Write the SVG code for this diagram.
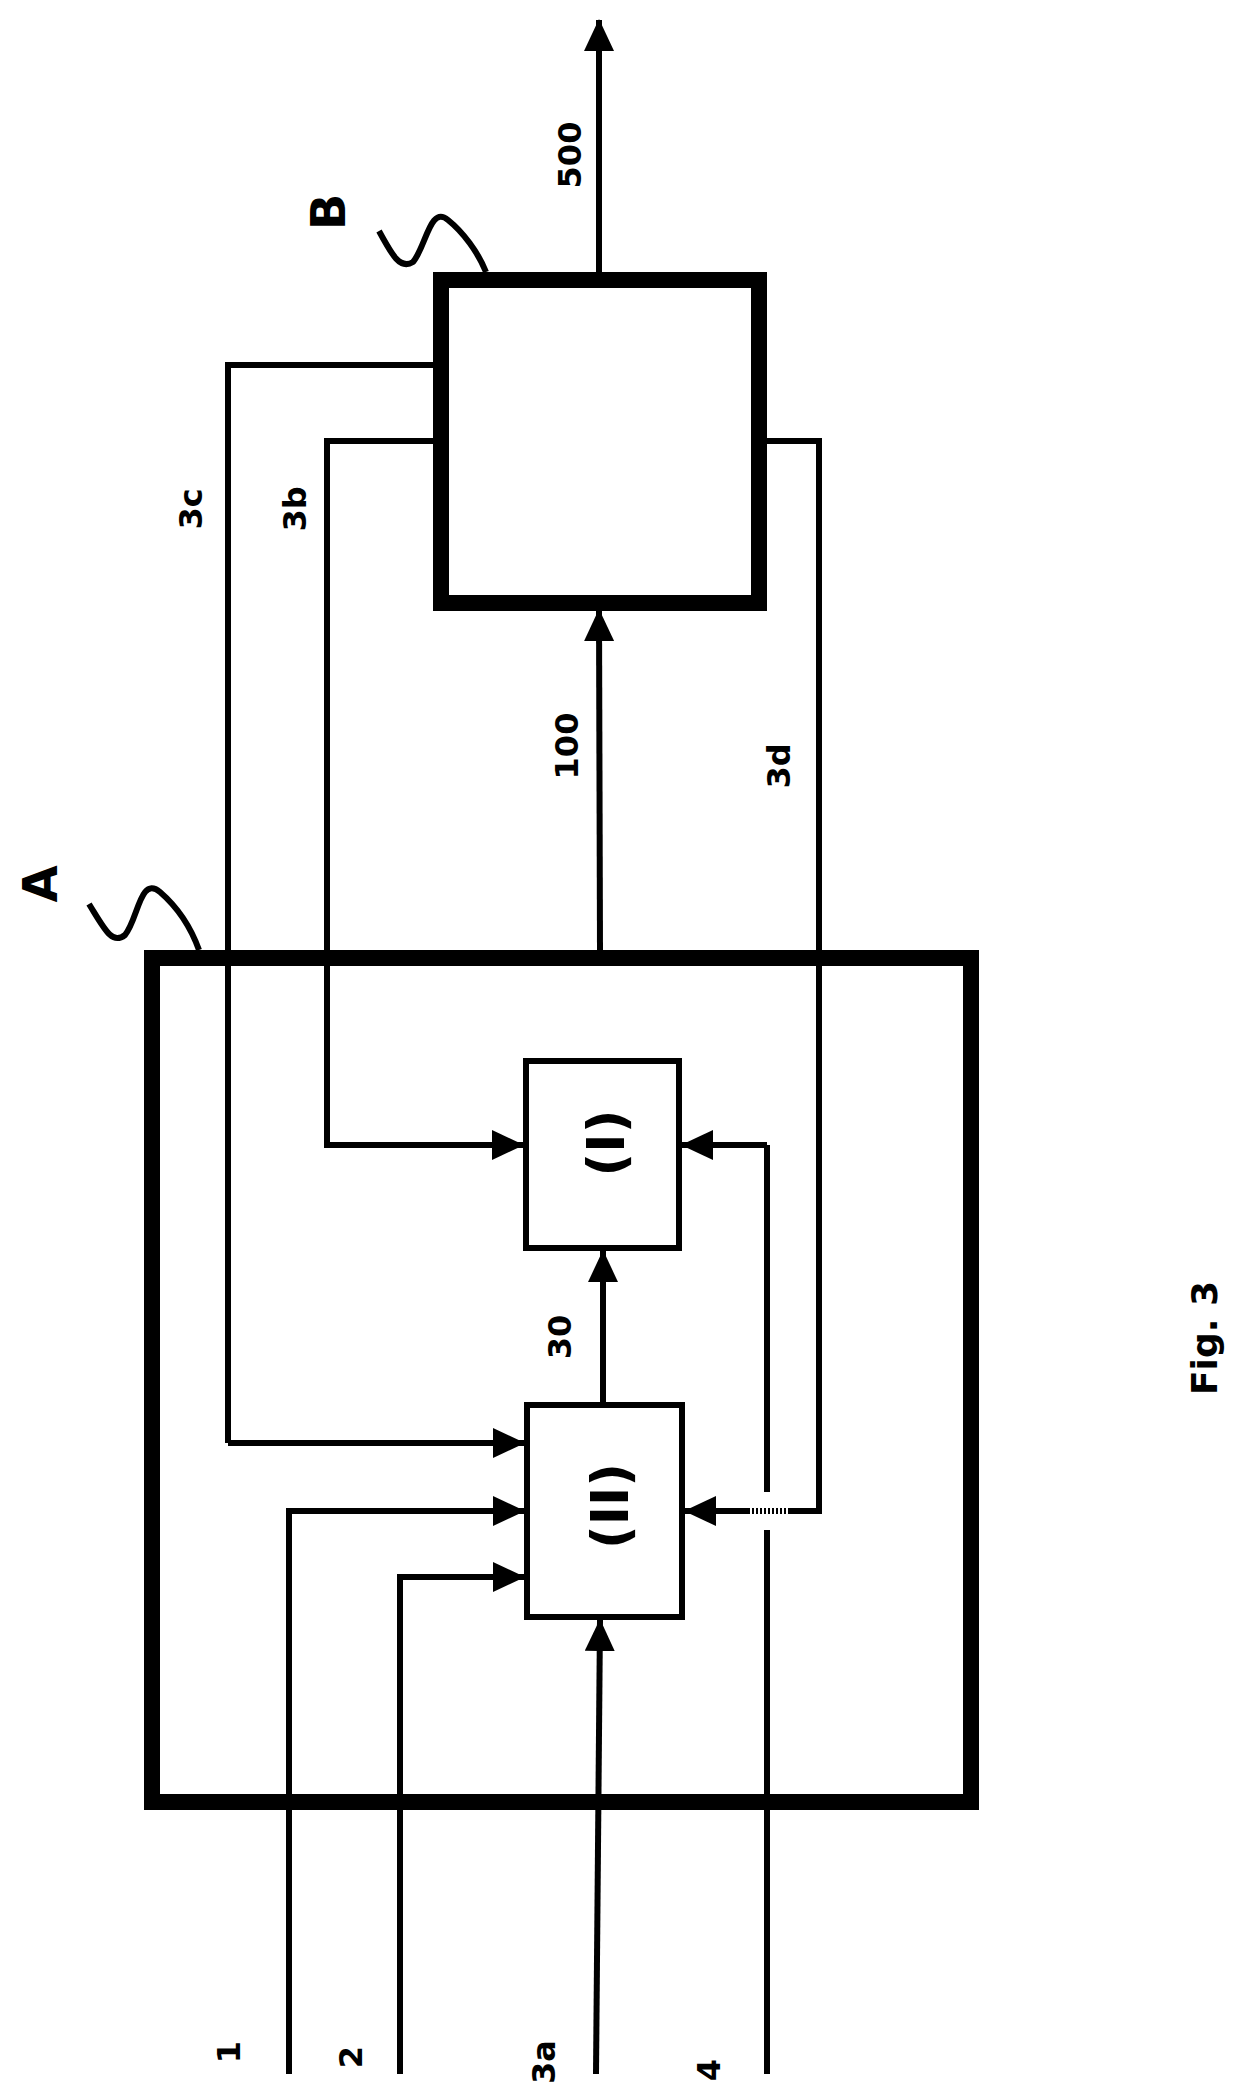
<svg xmlns="http://www.w3.org/2000/svg" width="1243" height="2098" viewBox="0 0 1243 2098">
<style>
.ln{fill:none;stroke:#000;stroke-width:6}
.ar{marker-end:url(#ah)}
.box{fill:none;stroke:#000}
.t{font-family:"DejaVu Sans",sans-serif;font-weight:bold;fill:#000}
</style>
<defs>
<marker id="ah" markerUnits="userSpaceOnUse" markerWidth="32" markerHeight="30" refX="31" refY="15" orient="auto" viewBox="0 0 32 30">
<path d="M0,0 L32,15 L0,30 z" fill="#000"/>
</marker>
</defs>
<rect width="1243" height="2098" fill="#fff"/>
<g id="connectors">
<path class="ln ar" d="M599,272 L599,20"/>
<path class="ln ar" d="M600,950 L599,610"/>
<path class="ln ar" d="M603,1402 L603,1251"/>
<path class="ln ar" d="M596,2074 L600,1620"/>
<path class="ln" d="M433,365 L228,365 L228,1443"/>
<path class="ln ar" d="M228,1443 L524,1443"/>
<path class="ln ar" d="M433,441 L327,441 L327,1145 L523,1145"/>
<path class="ln" d="M767,441 L819,441 L819,1511 L788,1511"/>
<path class="ln ar" d="M748,1511 L685,1511"/>
<path d="M748,1511 L788,1511" fill="none" stroke="#000" stroke-width="6" stroke-dasharray="2,2"/>
<path class="ln" d="M767,2074 L767,1530"/>
<path class="ln" d="M767,1492 L767,1145"/>
<path class="ln ar" d="M767,1145 L682,1145"/>
<path class="ln ar" d="M289,2074 L289,1511 L524,1511"/>
<path class="ln ar" d="M400,2074 L400,1577 L524,1577"/>
<path class="ln" d="M89,904 C105,930 112,945 125,935 C138,920 140,875 160,892 C175,905 190,925 199,950" stroke-width="5"/>
<path class="ln" d="M379,231 C392,255 400,270 413,262 C426,247 430,205 448,220 C463,232 478,252 486,272" stroke-width="5"/>
</g>
<g id="A"><rect class="box" x="152" y="958" width="819" height="844" stroke-width="16"/></g>
<g id="B"><rect class="box" x="441" y="280" width="318" height="323" stroke-width="16"/></g>
<g id="I"><rect x="526" y="1061" width="153" height="187" fill="#fff" stroke="#000" stroke-width="6"/>
<text class="t" font-size="52" text-anchor="middle" transform="translate(606,1143) rotate(-90)" dy="18">(I)</text></g>
<g id="II"><rect x="527" y="1405" width="155" height="212" fill="#fff" stroke="#000" stroke-width="6"/>
<text class="t" font-size="52" text-anchor="middle" transform="translate(610,1506) rotate(-90)" dy="18">(II)</text></g>
<g id="labels">
<text class="t" font-size="32" text-anchor="middle" transform="translate(570,155) rotate(-90)" dy="11">500</text>
<text class="t" font-size="48" text-anchor="middle" transform="translate(328,212) rotate(-90)" dy="17">B</text>
<text class="t" font-size="48" text-anchor="middle" transform="translate(40,884) rotate(-90)" dy="17">A</text>
<text class="t" font-size="32" text-anchor="middle" transform="translate(191,509) rotate(-90)" dy="11">3c</text>
<text class="t" font-size="32" text-anchor="middle" transform="translate(295,509) rotate(-90)" dy="11">3b</text>
<text class="t" font-size="32" text-anchor="middle" transform="translate(567,746) rotate(-90)" dy="11">100</text>
<text class="t" font-size="32" text-anchor="middle" transform="translate(779,766) rotate(-90)" dy="11">3d</text>
<text class="t" font-size="32" text-anchor="middle" transform="translate(560,1337) rotate(-90)" dy="11">30</text>
<text class="t" font-size="36" text-anchor="middle" transform="translate(1205,1338) rotate(-90)" dy="12">Fig. 3</text>
<text class="t" font-size="32" text-anchor="middle" transform="translate(229,2052) rotate(-90)" dy="11">1</text>
<text class="t" font-size="32" text-anchor="middle" transform="translate(351,2057) rotate(-90)" dy="11">2</text>
<text class="t" font-size="32" text-anchor="middle" transform="translate(544,2062) rotate(-90)" dy="11">3a</text>
<text class="t" font-size="32" text-anchor="middle" transform="translate(709,2070) rotate(-90)" dy="11">4</text>
</g>
</svg>
